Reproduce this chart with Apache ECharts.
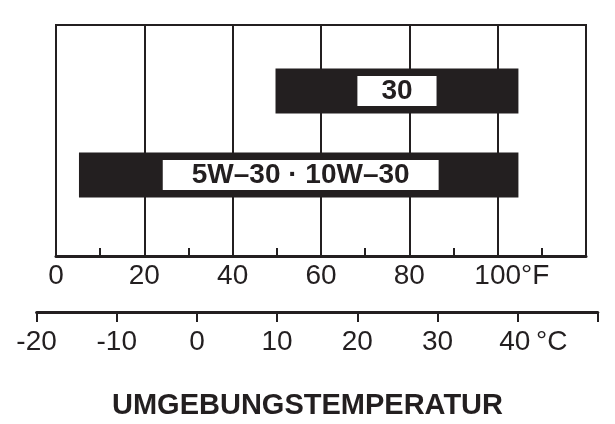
<!DOCTYPE html>
<html><head><meta charset="utf-8">
<script src="https://cdn.jsdelivr.net/npm/echarts@6/dist/echarts.min.js"></script>
<style>html,body{margin:0;padding:0;background:#fff}#c{width:615px;height:424px}</style>
</head><body><div id="c"></div>
<script>
// ---- data ----
const oilGrades = ['5W–30 · 10W–30', '30'];
const rangeStartF = [5.2, 49.7];
const rangeEndF = [104.7, 104.7];
const fahrenheitTicks = [0, 20, 40, 60, 80, 100];
const celsiusTicks = [-20, -10, 0, 10, 20, 30, 40];
const fahrenheitUnit = '°F';
const celsiusUnit = '°C';
const axisTitle = 'UMGEBUNGSTEMPERATUR';

// ---- style ----
const INK = '#231f20';
const FONT = '"Liberation Sans", Arial, Helvetica, sans-serif';
const labelPads = [[1, 29, 1, 29], [1, 24, 1, 24]];
const labelOffsets = [[2, 0], [0, 0]];

const spans = rangeEndF.map((e, i) => e - rangeStartF[i]);

const chart = echarts.init(document.getElementById('c'), null, {renderer: 'canvas'});
chart.setOption({
  animation: false,
  backgroundColor: '#fff',
  title: {
    text: axisTitle, left: 'center', top: 386,
    textStyle: {fontFamily: FONT, fontSize: 29, fontWeight: 'bold', color: INK}
  },
  grid: [
    {left: 56, right: 29, top: 25, bottom: 168, show: true, borderColor: INK, borderWidth: 2, backgroundColor: 'transparent'},
    {left: 56, right: 29, top: 49, bottom: 207},
    {left: 36.6, right: 17.2, top: 300, bottom: 112}
  ],
  xAxis: [
    {
      gridIndex: 0, type: 'value', min: 0, max: 120, interval: 20,
      axisLine: {show: true, lineStyle: {color: INK, width: 3}},
      axisTick: {show: false, inside: true},
      minorTick: {show: true, splitNumber: 2, length: 8, lineStyle: {color: INK, width: 2}},
      splitLine: {show: true, lineStyle: {color: INK, width: 2}},
      axisLabel: {
        margin: 6, fontSize: 28, fontFamily: FONT, color: INK,
        formatter: v => {
          if (!fahrenheitTicks.includes(v)) return '';
          if (v === fahrenheitTicks[fahrenheitTicks.length - 1]) return '{h|' + fahrenheitUnit + '}' + v + fahrenheitUnit;
          return String(v);
        },
        rich: {h: {color: 'rgba(0,0,0,0)', fontSize: 28, fontFamily: FONT}}
      }
    },
    {gridIndex: 1, type: 'value', min: 0, max: 120, show: false},
    {
      gridIndex: 2, type: 'value', min: -20, max: 50, interval: 10,
      axisLine: {show: true, lineStyle: {color: INK, width: 3}},
      axisTick: {show: true, length: 10, lineStyle: {color: INK, width: 2}},
      splitLine: {show: false},
      axisLabel: {
        margin: 16, fontSize: 28, fontFamily: FONT, color: INK,
        formatter: v => {
          if (!celsiusTicks.includes(v)) return '';
          if (v === celsiusTicks[celsiusTicks.length - 1]) return '{h|' + celsiusUnit + '}' + v + '\u2009' + celsiusUnit;
          return String(v);
        },
        rich: {h: {color: 'rgba(0,0,0,0)', fontSize: 28, fontFamily: FONT}}
      }
    }
  ],
  yAxis: [
    {gridIndex: 0, type: 'value', show: false, min: 0, max: 1},
    {gridIndex: 1, type: 'category', data: oilGrades, show: false},
    {gridIndex: 2, type: 'value', show: false, min: 0, max: 1}
  ],
  series: [
    {
      type: 'bar', xAxisIndex: 1, yAxisIndex: 1, stack: 'range', barWidth: 45,
      silent: true, itemStyle: {color: 'rgba(0,0,0,0)'}, data: rangeStartF
    },
    {
      type: 'bar', xAxisIndex: 1, yAxisIndex: 1, stack: 'range', barWidth: 45,
      itemStyle: {color: INK},
      label: {
        show: true, position: 'inside', formatter: p => oilGrades[p.dataIndex],
        backgroundColor: '#fff', color: INK, fontWeight: 'bold', fontSize: 28, lineHeight: 28, fontFamily: FONT
      },
      data: spans.map((v, i) => ({value: v, label: {padding: labelPads[i], offset: labelOffsets[i]}}))
    }
  ]
});
</script>
</body></html>
